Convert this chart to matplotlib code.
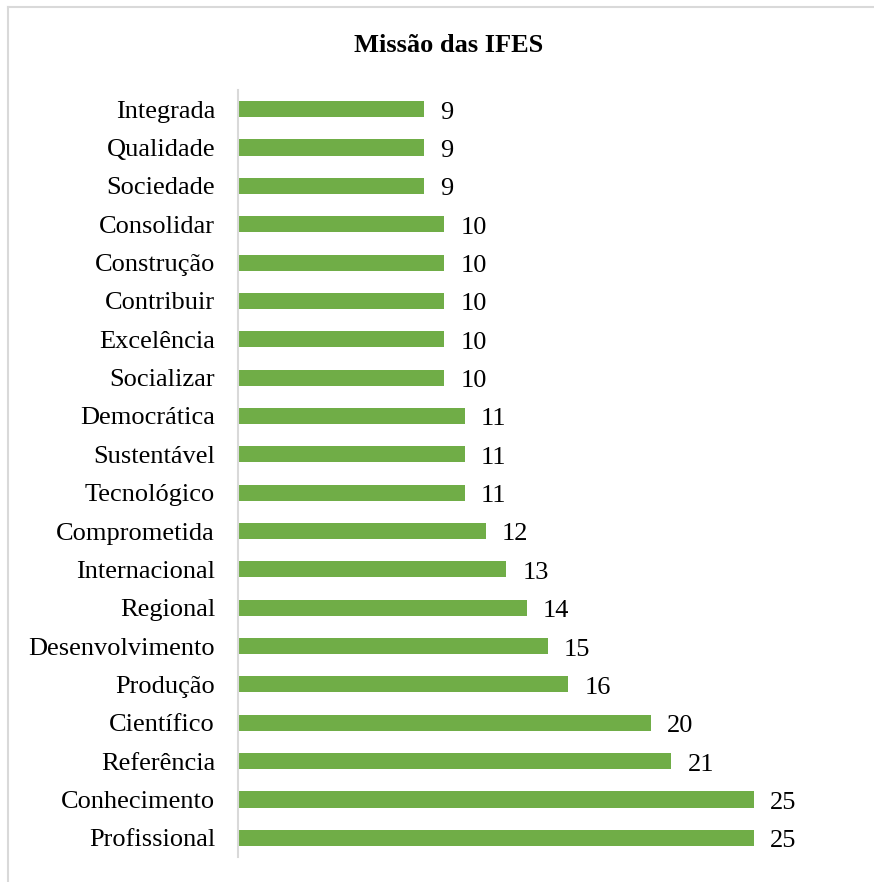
import matplotlib
matplotlib.use("Agg")
import matplotlib.pyplot as plt
from matplotlib.lines import Line2D

categories = ["Integrada", "Qualidade", "Sociedade", "Consolidar", "Construção",
              "Contribuir", "Excelência", "Socializar", "Democrática", "Sustentável",
              "Tecnológico", "Comprometida", "Internacional", "Regional",
              "Desenvolvimento", "Produção", "Científico", "Referência",
              "Conhecimento", "Profissional"]
values = [9, 9, 9, 10, 10, 10, 10, 10, 11, 11, 11, 12, 13, 14, 15, 16, 20, 21, 25, 25]
title = "Missão das IFES"

plt.rcParams['font.family'] = ['Liberation Serif', 'DejaVu Serif']

W, H = 874, 882
fig = plt.figure(figsize=(W / 100, H / 100), dpi=100)

px_per_unit = (755 - 239) / 25.0
xmax = 30
left_px, top_px, bot_px = 238, 90, 857
ax = fig.add_axes([left_px / W, (H - bot_px) / H,
                   xmax * px_per_unit / W, (bot_px - top_px) / H])

y = list(range(len(categories)))
ax.barh(y, values, height=0.42, color="#70AD47", edgecolor="none")
ax.set_xlim(0, xmax)
ax.set_ylim(len(categories) - 0.5, -0.5)
ax.set_yticks(y)
ax.set_yticklabels(categories, fontsize=19, color="#000000")
ax.tick_params(axis='y', length=0, pad=16.5)
ax.set_xticks([])
for s in ["top", "right", "bottom"]:
    ax.spines[s].set_visible(False)
ax.spines["left"].set_color("#d9d9d9")
ax.spines["left"].set_linewidth(1.5)

for yi, v in zip(y, values):
    ax.annotate(str(v), (v, yi), xytext=(11.5, -2.5), textcoords="offset points",
                ha="left", va="center", fontsize=19, color="#000000")

fig.text(449 / W, 1 - 45 / H, title, ha="center", va="center",
         fontsize=19, fontweight="bold", color="#000000")

# chart frame (extends beyond the image at right and bottom)
fig.add_artist(Line2D([8 / W, 8 / W], [0, 1 - 7 / H], color="#d9d9d9", lw=1.5,
                      transform=fig.transFigure))
fig.add_artist(Line2D([8 / W, 1], [1 - 7 / H, 1 - 7 / H], color="#d9d9d9", lw=1.5,
                      transform=fig.transFigure))

fig.savefig("out.png", dpi=100, facecolor="white")
